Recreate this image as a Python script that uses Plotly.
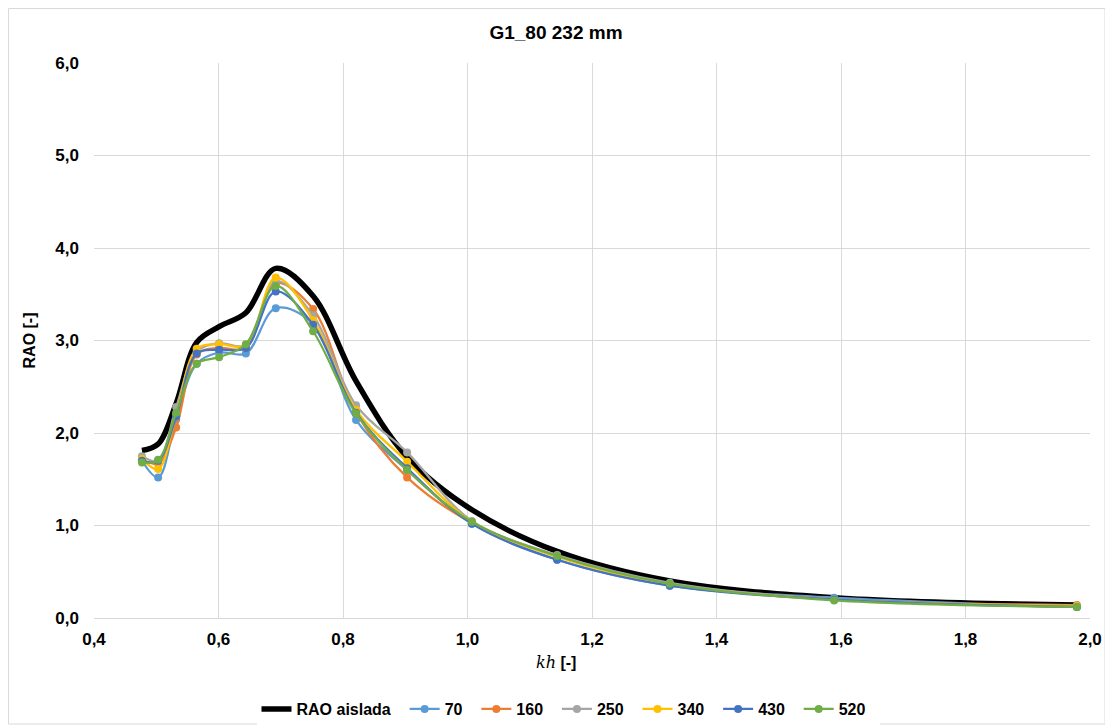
import plotly.graph_objects as go

kh = [0.477, 0.503, 0.532, 0.565, 0.601, 0.644, 0.692, 0.752, 0.821, 0.903, 1.007, 1.144, 1.325, 1.589, 1.979]

rao_aislada = [1.81, 1.88, 2.32, 2.98, 3.15, 3.30, 3.78, 3.48, 2.56, 1.74, 1.17, 0.72, 0.40, 0.22, 0.14]
s70  = [1.70, 1.52, 2.15, 2.75, 2.87, 2.86, 3.35, 3.18, 2.14, 1.60, 1.02, 0.63, 0.35, 0.22, 0.12]
s160 = [1.72, 1.67, 2.06, 2.85, 2.92, 2.92, 3.62, 3.34, 2.22, 1.52, 1.03, 0.67, 0.37, 0.20, 0.14]
s250 = [1.75, 1.70, 2.28, 2.88, 2.97, 2.95, 3.64, 3.27, 2.30, 1.79, 1.05, 0.68, 0.38, 0.20, 0.13]
s340 = [1.72, 1.61, 2.20, 2.91, 2.96, 2.95, 3.68, 3.22, 2.25, 1.69, 1.04, 0.66, 0.36, 0.20, 0.13]
s430 = [1.70, 1.70, 2.18, 2.86, 2.90, 2.92, 3.53, 3.17, 2.22, 1.62, 1.02, 0.63, 0.35, 0.20, 0.12]
s520 = [1.68, 1.71, 2.22, 2.75, 2.82, 2.96, 3.59, 3.10, 2.21, 1.60, 1.04, 0.67, 0.37, 0.19, 0.12]

names = ["70", "160", "250", "340", "430", "520"]
series = [s70, s160, s250, s340, s430, s520]
colors = ["#5B9BD5", "#ED7D31", "#A5A5A5", "#FFC000", "#4472C4", "#70AD47"]

pad = "\u00a0" * 2
fig = go.Figure()
fig.add_trace(go.Scatter(x=kh, y=rao_aislada, name="RAO aislada" + pad, mode="lines",
                         line=dict(color="black", width=5.5, shape="spline", smoothing=1.0)))
for n, s, c in zip(names, series, colors):
    fig.add_trace(go.Scatter(x=kh, y=s, name=n + pad, mode="lines+markers",
                             line=dict(color=c, width=2.25, shape="spline", smoothing=1.0),
                             marker=dict(color=c, size=8)))

font_fam = "Liberation Sans, Arial, sans-serif"
fig.update_layout(
    width=1105, height=718,
    paper_bgcolor="white", plot_bgcolor="white",
    separators=", ",
    margin=dict(l=86, r=23, t=55, b=108, autoexpand=False),
    title=dict(text="<b>G1_80 232 mm</b>", xref="container", x=(556 - 8) / 1105, xanchor="center",
               yref="container", y=1 - 24 / 718, yanchor="middle",
               font=dict(family=font_fam, size=19, color="#000000")),
    font=dict(family=font_fam, color="#000000"),
    xaxis=dict(range=[0.4, 2.0], dtick=0.2, tick0=0.4, tickformat=".1f",
               automargin=False,
               showgrid=True, gridcolor="#d9d9d9", gridwidth=1,
               showline=True, linecolor="#d9d9d9", linewidth=1,
               zeroline=False, ticks="", ticklabelstandoff=6,
               tickfont=dict(family=font_fam, size=17, color="#000000", weight="bold")),
    yaxis=dict(range=[0, 6.0], dtick=1.0, tickformat=".1f",
               automargin=False,
               showgrid=True, gridcolor="#d9d9d9", gridwidth=1,
               zeroline=False, ticks="", showline=False, ticklabelstandoff=14,
               tickfont=dict(family=font_fam, size=17, color="#000000", weight="bold"),
               title=dict(text="<b>RAO [-]</b>", font=dict(family=font_fam, size=16, color="#000000"),
                          standoff=15)),
    legend=dict(orientation="h", x=(568 - 94) / 996, xanchor="center",
                yref="container", y=1 - 701 / 718, yanchor="middle",
                font=dict(family=font_fam, size=16, color="#000000", weight="bold"),
                itemwidth=30, traceorder="normal"),
    annotations=[dict(text="<span style=\"font-family:'DejaVu Serif'\"><i>kh</i></span> <b>[-]</b>",
                      xref="paper", x=(556 - 94) / 996, xanchor="center",
                      yref="paper", y=(618 - 662) / 555, yanchor="middle",
                      showarrow=False, font=dict(family=font_fam, size=16, color="#000000"))],
    shapes=[dict(type="rect", xref="paper", yref="paper",
                 x0=-0.0858, x1=1.0151, y0=-0.1910, y1=1.0982,
                 line=dict(color="#d9d9d9", width=1), fillcolor="rgba(0,0,0,0)", layer="below")],
)

fig.write_html("out.html")
